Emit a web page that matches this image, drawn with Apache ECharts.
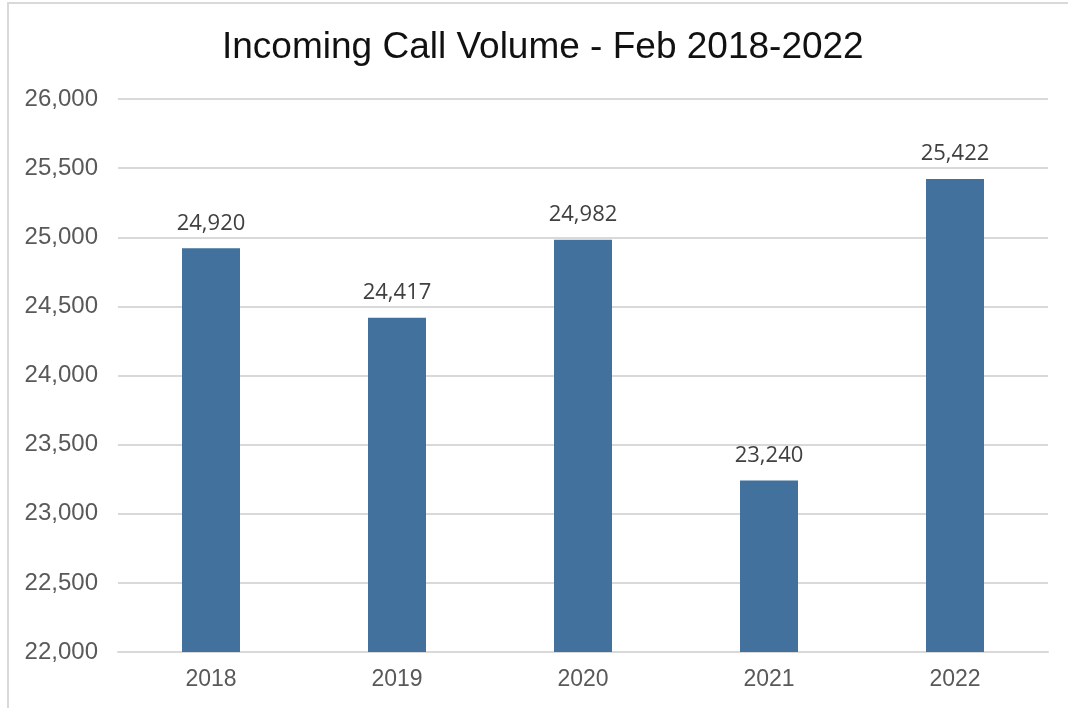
<!DOCTYPE html>
<html>
<head>
<meta charset="utf-8">
<script src="https://cdn.jsdelivr.net/npm/echarts@6/dist/echarts.min.js"></script>
<style>
  html, body { margin: 0; padding: 0; background: #fff; }
  #chart { width: 1068px; height: 708px; }
</style>
</head>
<body>
<div id="chart"></div>
<script>
var years = ['2018', '2019', '2020', '2021', '2022'];
var calls = [24920, 24417, 24982, 23240, 25422];

var myChart = echarts.init(document.getElementById('chart'));

var option = {
    backgroundColor: '#fff',
    animation: false,
    title: {
        text: 'Incoming Call Volume - Feb 2018-2022',
        left: 217,
        top: 24,
        textStyle: {
            fontFamily: 'Liberation Sans',
            fontSize: 37,
            fontWeight: 'normal',
            color: '#111'
        }
    },
    graphic: [{
        type: 'rect',
        shape: { x: 8, y: 3, width: 1080, height: 720 },
        style: { fill: null, stroke: '#d9d9d9', lineWidth: 2 },
        silent: true
    }],
    grid: {
        left: 118,
        right: 20,
        top: 99,
        height: 553
    },
    xAxis: {
        type: 'category',
        data: years,
        axisLine: { lineStyle: { color: '#d9d9d9', width: 2 } },
        axisTick: { show: false },
        axisLabel: {
            margin: 16,
            fontFamily: 'Liberation Sans',
            fontSize: 23,
            color: '#595959'
        }
    },
    yAxis: {
        type: 'value',
        min: 22000,
        max: 26000,
        interval: 500,
        axisLine: { show: false },
        axisTick: { show: false },
        splitLine: { lineStyle: { color: '#d9d9d9', width: 2 } },
        axisLabel: {
            margin: 20,
            fontFamily: 'Liberation Sans',
            fontSize: 24,
            color: '#595959',
            formatter: function (v) { return v.toLocaleString('en-US'); }
        }
    },
    series: [{
        name: 'Calls',
        type: 'bar',
        data: calls,
        barWidth: 58,
        itemStyle: { color: '#41719c' },
        label: {
            show: true,
            position: 'top',
            distance: 14,
            fontFamily: 'Open Sans',
            fontSize: 22,
            color: '#404040',
            formatter: function (p) { return p.value.toLocaleString('en-US'); }
        }
    }]
};

myChart.setOption(option);
</script>
</body>
</html>
